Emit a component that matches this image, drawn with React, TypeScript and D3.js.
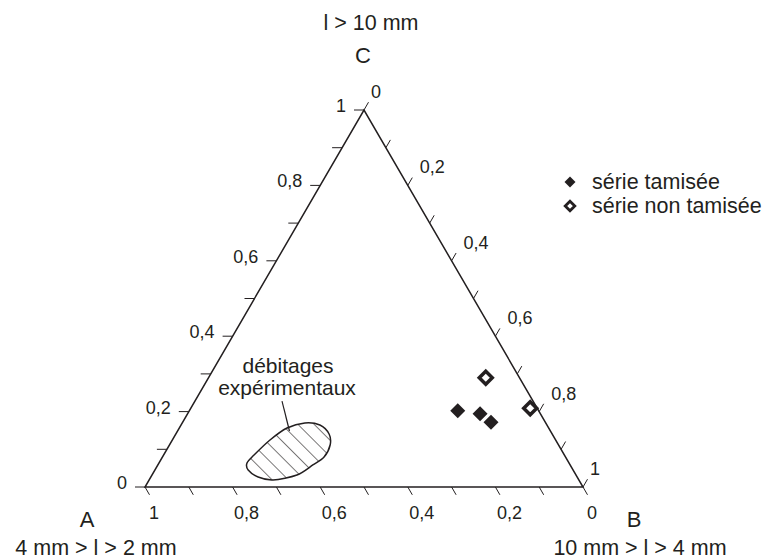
import React from "react";
import * as d3 from "d3";

// ---- data (ternary fractions: a = A, b = B, c = C) ----
const tickValues = [0, 0.1, 0.2, 0.3, 0.4, 0.5, 0.6, 0.7, 0.8, 0.9, 1];
const labelValues = [0, 0.2, 0.4, 0.6, 0.8, 1];
const tickLabel = (v: number) => (v === 0 ? "0" : v === 1 ? "1" : String(v).replace(".", ","));

const tamiseeA = [0.185, 0.138, 0.124];
const tamiseeB = [0.613, 0.668, 0.704];
const tamiseeC = [0.202, 0.194, 0.172];

const nonTamiseeA = [0.077, 0.017];
const nonTamiseeB = [0.633, 0.775];
const nonTamiseeC = [0.29, 0.209];

// experimental debitage region outline (B, C fractions)
const blobB = [0.28, 0.317, 0.35, 0.367, 0.369, 0.354, 0.331, 0.283, 0.245, 0.213, 0.201, 0.2065, 0.223, 0.246];
const blobC = [0.17, 0.1645, 0.1406, 0.1114, 0.0796, 0.0584, 0.0318, 0.0186, 0.0265, 0.0451, 0.0637, 0.0849, 0.1247, 0.1565];

// annotation leader (B, C)
const leaderB = [0.1988, 0.2556];
const leaderC = [0.228, 0.1485];

const cornerTitles = { A: "A", B: "B", C: "C" };
const rangeA = "4 mm > l > 2 mm";
const rangeB = "10 mm > l > 4 mm";
const rangeC = "l > 10 mm";
const legendLabels = ["série tamisée", "série non tamisée"];
const annotationLines = ["débitages", "expérimentaux"];

// ---- layout ----
const W = 775, H = 560;
const FONT = "'Liberation Sans', Arial, Helvetica, sans-serif";
const xS = d3.scaleLinear().domain([0, 1]).range([145, 583]);
const yS = d3.scaleLinear().domain([0, 1]).range([487, 110]);
const proj = (b: number, c: number): [number, number] => [xS(b + c / 2), yS(c)];

export default function App() {
  const A = proj(0, 0), B = proj(1, 0), C = proj(0, 1);
  const tri = `M${A[0]},${A[1]}L${B[0]},${B[1]}L${C[0]},${C[1]}Z`;

  const blobPts: [number, number][] = blobB.map((b, i) => proj(b, blobC[i]));
  const blobPath = d3.line().curve(d3.curveCardinalClosed.tension(0.1))(blobPts) || "";

  const diamond = (x: number, y: number, r: number) => `M${x},${y - r}L${x + r},${y}L${x},${y + r}L${x - r},${y}Z`;

  const L0 = proj(leaderB[0], leaderC[0]);
  const L1 = proj(leaderB[1], leaderC[1]);

  const isEnd = (v: number) => v === 0 || v === 1;

  return (
    <svg width={W} height={H} style={{ position: "absolute", left: 0, top: 0, background: "#fff" }} fontFamily={FONT}>
      <defs>
        <pattern id="hatch" patternUnits="userSpaceOnUse" width={11.5} height={11.5} patternTransform="translate(3,0) rotate(-45)">
          <line x1={0} y1={-1} x2={0} y2={13} stroke="#231f20" strokeWidth={1.2} />
        </pattern>
      </defs>
      <rect x={0} y={0} width={W} height={H} fill="#fff" />

      {/* ticks: bottom axis (A fraction) */}
      {tickValues.map((v) => {
        const p = proj(1 - v, 0);
        return <line key={"bt" + v} x1={p[0]} y1={p[1]} x2={p[0] + 4.5} y2={p[1] + 7.8} stroke="#231f20" strokeWidth={1} />;
      })}
      {/* ticks: left axis (C fraction) */}
      {tickValues.map((v) => {
        const p = proj(0, v);
        return <line key={"lt" + v} x1={p[0]} y1={p[1]} x2={p[0] - 10} y2={p[1]} stroke="#231f20" strokeWidth={1} />;
      })}
      {/* ticks: right axis (B fraction) */}
      {tickValues.map((v) => {
        const p = proj(v, 1 - v);
        return <line key={"rt" + v} x1={p[0]} y1={p[1]} x2={p[0] + 4.5} y2={p[1] - 7.8} stroke="#231f20" strokeWidth={1} />;
      })}

      <path d={tri} fill="none" stroke="#231f20" strokeWidth={1.5} strokeLinejoin="miter" />

      {/* tick labels */}
      {labelValues.map((v) => {
        const p = proj(1 - v, 0);
        return (
          <text key={"bl" + v} x={p[0] + (isEnd(v) ? 9 : 14)} y={p[1] + 32} fontSize={18} textAnchor="middle" fill="#231f20">
            {tickLabel(v)}
          </text>
        );
      })}
      {labelValues.map((v) => {
        const p = proj(0, v);
        return (
          <text key={"ll" + v} x={p[0] - 18} y={p[1] + 2} fontSize={18} textAnchor="end" fill="#231f20">
            {tickLabel(v)}
          </text>
        );
      })}
      {labelValues.map((v) => {
        const p = proj(v, 1 - v);
        return (
          <text key={"rl" + v} x={p[0] + (isEnd(v) ? 7 : 12)} y={p[1] - 12} fontSize={18} textAnchor="start" fill="#231f20">
            {tickLabel(v)}
          </text>
        );
      })}

      {/* corner titles */}
      <text x={C[0] - 1} y={63} fontSize={22} textAnchor="middle" fill="#231f20">{cornerTitles.C}</text>
      <text x={C[0] + 7} y={30} fontSize={21.5} textAnchor="middle" fill="#231f20">{rangeC}</text>
      <text x={A[0] - 58} y={527} fontSize={22} textAnchor="middle" fill="#231f20">{cornerTitles.A}</text>
      <text x={A[0] - 49} y={555} fontSize={21.5} textAnchor="middle" fill="#231f20">{rangeA}</text>
      <text x={B[0] + 51} y={527} fontSize={22} textAnchor="middle" fill="#231f20">{cornerTitles.B}</text>
      <text x={B[0] + 57} y={555} fontSize={21.5} textAnchor="middle" fill="#231f20">{rangeB}</text>

      {/* experimental region */}
      <path d={blobPath} fill="url(#hatch)" stroke="#231f20" strokeWidth={1.5} />
      <line x1={L0[0]} y1={L0[1]} x2={L1[0]} y2={L1[1]} stroke="#231f20" strokeWidth={1.2} />
      <text x={L0[0] + 6} y={L0[1] - 28} fontSize={21} textAnchor="middle" fill="#231f20">{annotationLines[0]}</text>
      <text x={L0[0] + 5} y={L0[1] - 6} fontSize={21} textAnchor="middle" fill="#231f20">{annotationLines[1]}</text>

      {/* points */}
      {tamiseeB.map((b, i) => {
        const [x, y] = proj(b, tamiseeC[i]);
        return <path key={"t" + i} d={diamond(x, y, 7.5)} fill="#231f20" data-a={tamiseeA[i]} />;
      })}
      {nonTamiseeB.map((b, i) => {
        const [x, y] = proj(b, nonTamiseeC[i]);
        return <path key={"n" + i} d={diamond(x, y, 6.5)} fill="#fff" stroke="#231f20" strokeWidth={3.5} strokeLinejoin="miter" data-a={nonTamiseeA[i]} />;
      })}

      {/* legend */}
      <path d={diamond(570, 182, 5.5)} fill="#231f20" />
      <text x={592} y={189} fontSize={21.5} fill="#231f20">{legendLabels[0]}</text>
      <path d={diamond(570, 206, 4.8)} fill="#fff" stroke="#231f20" strokeWidth={2.8} strokeLinejoin="miter" />
      <text x={592} y={213} fontSize={21.5} fill="#231f20">{legendLabels[1]}</text>
    </svg>
  );
}
